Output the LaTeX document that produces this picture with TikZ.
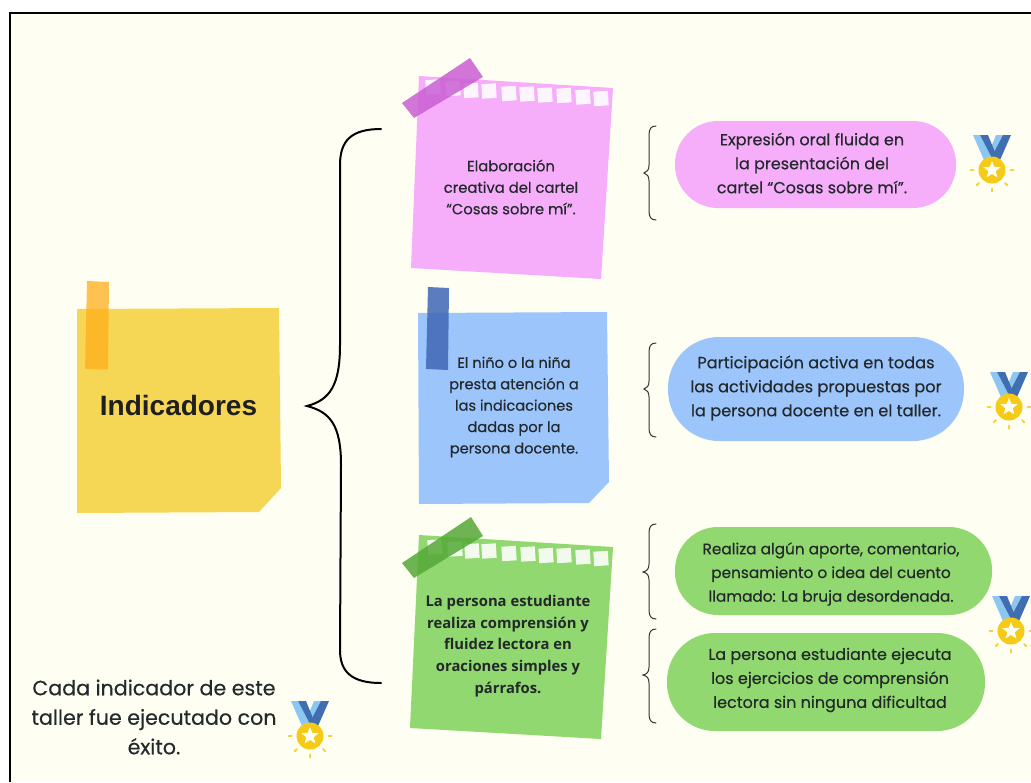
\documentclass[tikz,border=0pt]{standalone}
\usepackage{fontspec}
\setmainfont{Poppins}[FakeBold=0.35]
\newfontfamily\headfont{Liberation Sans}
\newfontfamily\firafont{Open Sans}
\usetikzlibrary{shapes.geometric}
\definecolor{paper}{HTML}{FFFEF2}
\definecolor{inkc}{HTML}{23282B}
\definecolor{yellownote}{HTML}{F6D655}
\definecolor{pinknote}{HTML}{F6AEFB}
\definecolor{bluenote}{HTML}{9CC5FB}
\definecolor{greennote}{HTML}{90D86F}
\definecolor{ribdark}{HTML}{3F6FB0}
\definecolor{riblight}{HTML}{8CC6F2}
\definecolor{gold}{HTML}{F5CB17}
\definecolor{tapeorange}{HTML}{FFAE1A}
\definecolor{tapepink}{HTML}{C95FD3}
\definecolor{tapeblue}{HTML}{3F66B5}
\definecolor{tapegreen}{HTML}{55A838}
\tikzset{
  x=1pt,y=-1pt,
  label text/.style={align=center,text=inkc,inner sep=0pt},
  hole/.style={fill=white,fill opacity=.88,draw=none,rotate=3.5,minimum size=14.5pt,inner sep=0pt,rectangle},
  bigbrace/.style={draw=black,line width=2pt,line cap=round},
  smallbrace/.style={draw=black!80,line width=1pt,line cap=round},
}
\newcommand{\medal}[2]{%
 \begin{scope}[shift={(#1,#2)}]
  \fill[riblight] (4,-35) -- (11,-35) -- (-1,-12) -- (-5,-13) -- cycle;
  \fill[ribdark] (11,-35) -- (19,-35) -- (8,-10) -- (-1,-12) -- cycle;
  \fill[riblight] (-19,-35) -- (-12,-35) -- (0,-12) -- (-8,-10) -- cycle;
  \fill[ribdark] (-12,-35) -- (-4,-35) -- (5,-13) -- (0,-12) -- cycle;
  \fill[gold] (0,0) circle (13.5);
  \node[star,star points=5,star point ratio=2.3,fill=paper,inner sep=0pt,minimum size=18pt,draw=none] at (0,0) {};
  \foreach \a in {0,45,90,135,180}{
    \draw[gold!85!white,line width=2pt,line cap=round] (\a:18.5) -- (\a:21.5);
  }
 \end{scope}}
\begin{document}
\begin{tikzpicture}
\useasboundingbox (0,0) rectangle (1031,782);
\fill[white] (0,0) rectangle (1031,782);
\fill[paper] (10,13) rectangle (1031,782);
\draw[black,line width=2pt] (10,782) -- (10,13) -- (1031,13);

% yellow note
\fill[yellownote] (77,309) -- (279,308) -- (281,488) -- (259,512) -- (77,513) -- cycle;
\fill[tapeorange,fill opacity=.75] (87,281) -- (109,282) -- (108,369.5) -- (85,369) -- cycle;
\node[label text,text=black!88,font=\headfont\bfseries\fontsize{28}{32}\selectfont] (indic) at (178.5,405) {Indicadores};

% large brace
\draw[bigbrace] (381,129) .. controls (352,129) and (340,140) .. (340,165)
  -- (340,345) .. controls (340,385) and (330,400) .. (307,406)
  .. controls (330,412) and (341,425) .. (341,465)
  -- (340,650) .. controls (340,672) and (352,683) .. (381,683);

% pink note
\fill[pinknote] (419,76) -- (613,88) -- (601,279) -- (411,268) -- cycle;
\foreach \cx/\cy in {433/87,453/88.5,471/90.5,489/91,509/93.5,527/94,545/95,564/95.5,583/97,601/98.5}
  \node[hole] at (\cx,\cy) {};
\fill[tapepink,fill opacity=.85] (402,103) -- (470,58) -- (483,77) -- (414,118) -- cycle;
\node[label text,font=\fontsize{14.8}{21.5}\selectfont] (n1) at (511,187) {Elaboración\\creativa del cartel\\“Cosas sobre mí”.};

% blue note
\fill[bluenote] (418,313) -- (607,312) -- (609,482) -- (589,503) -- (419,504) -- cycle;
\fill[tapeblue,fill opacity=.85] (428,287) -- (449,288) -- (448,370) -- (426,369) -- cycle;
\node[label text,font=\fontsize{14.6}{21.4}\selectfont] (n2) at (514,407) {El niño o la niña\\presta atención a\\las indicaciones\\dadas por la\\persona docente.};

% green note
\fill[greennote] (419,535) -- (613,547) -- (601,739) -- (410,728) -- cycle;
\foreach \cx/\cy in {435/547,455/549,472/551,489/551,509/553.5,528/554,546/555.5,564/555.5,583/557,601/558.5}
  \node[hole] at (\cx,\cy) {};
\fill[tapegreen,fill opacity=.85] (402,563) -- (471,517) -- (483,536) -- (414,578) -- cycle;
\node[label text,font=\firafont\bfseries\fontsize{14.8}{21.6}\selectfont] (n3) at (508,646) {La persona estudiante\\realiza comprensión y\\fluidez lectora en\\oraciones simples y\\párrafos.};

% small braces
\draw[smallbrace] (656,126) .. controls (651,126) and (649,129) .. (649,135) -- (649,165) .. controls (649,170) and (647,172) .. (644,173) .. controls (647,174) and (649,176) .. (649,181) -- (649,211) .. controls (649,217) and (651,220) .. (656,220);
\draw[smallbrace] (656,343) .. controls (651,343) and (649,346) .. (649,352) -- (649,381) .. controls (649,386) and (647,388) .. (644,389) .. controls (647,390) and (649,392) .. (649,397) -- (649,428) .. controls (649,434) and (651,437) .. (656,437);
\draw[smallbrace] (656,524) .. controls (651,524) and (649,527) .. (649,533) -- (649,564) .. controls (649,569) and (647,571) .. (643,572) .. controls (647,573) and (649,575) .. (649,580) -- (649,610) .. controls (649,616) and (651,619) .. (656,619);
\draw[smallbrace] (656,629) .. controls (651,629) and (649,632) .. (649,638) -- (649,667) .. controls (649,672) and (647,674) .. (643,675) .. controls (647,676) and (649,678) .. (649,683) -- (649,714) .. controls (649,720) and (651,723) .. (656,723);

% pills
\fill[pinknote,rounded corners=43pt] (675,121) rectangle (956,208);
\node[label text,font=\fontsize{16}{24}\selectfont] (p1) at (812,163) {Expresión oral fluida en\\la presentación del\\cartel “Cosas sobre mí”.};
\fill[bluenote,rounded corners=51pt] (668,337) rectangle (964,441);
\node[label text,font=\fontsize{16.2}{24}\selectfont] (p2) at (816,388) {Participación activa en todas\\las actividades propuestas por\\la persona docente en el taller.};
\fill[greennote,rounded corners=43pt] (675,527) rectangle (992,615);
\node[label text,font=\fontsize{15.3}{23.7}\selectfont] (p3) at (831,574) {Realiza algún aporte, comentario,\\pensamiento o idea del cuento\\llamado: La bruja desordenada.};
\fill[greennote,rounded corners=48pt] (667,633) rectangle (985,731);
\node[label text,font=\fontsize{16}{24}\selectfont] (p4) at (830,680) {La persona estudiante ejecuta\\los ejercicios de comprensión\\lectora sin ninguna dificultad};

% medals
\medal{992}{170}
\medal{1009}{407}
\medal{1011}{631}
\medal{310}{736}

% caption
\node[label text,font=\fontsize{20.6}{29.5}\selectfont] (cap) at (154,717) {Cada indicador de este\\taller fue ejecutado con\\éxito.};
\end{tikzpicture}
\end{document}
